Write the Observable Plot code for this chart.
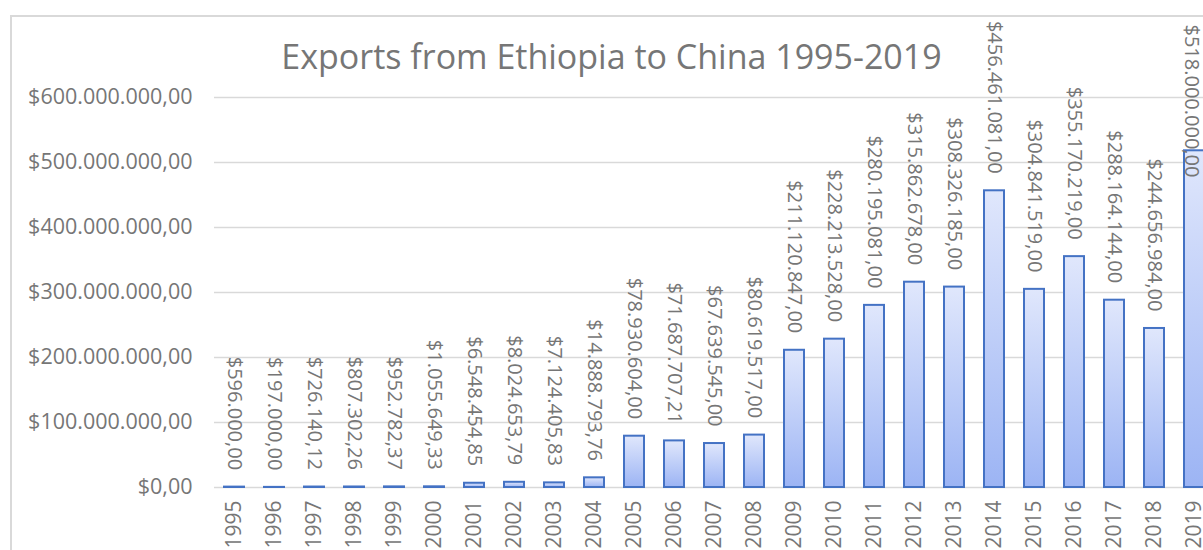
<!DOCTYPE html>
<html>
<head>
<meta charset="utf-8">
<script src="https://cdn.jsdelivr.net/npm/d3@7"></script>
<script src="https://cdn.jsdelivr.net/npm/@observablehq/plot@0.6"></script>
<style>
  html, body { margin: 0; padding: 0; background: #ffffff; overflow: hidden; }
  #wrap { position: relative; width: 1203px; height: 550px; overflow: hidden; }
  #frame { position: absolute; left: 10px; top: 15px; width: 1300px; height: 700px; border: 2px solid #d9d9d9; box-sizing: border-box; }
  #title { position: absolute; left: 0; top: 39px; width: 1223px; text-align: center; font-family: "Open Sans", sans-serif; font-size: 34px; line-height: 1; color: #767676; white-space: nowrap; }
  #chart { position: absolute; left: 0; top: 0; }
</style>
</head>
<body>
<div id="wrap">
  <div id="frame"></div>
  <div id="chart"></div>
  <div id="title">Exports from Ethiopia to China 1995-2019</div>
</div>
<script>
const years = ["1995","1996","1997","1998","1999","2000","2001","2002","2003","2004","2005","2006","2007","2008","2009","2010","2011","2012","2013","2014","2015","2016","2017","2018","2019"];
const exportsUSD = [596000.00, 197000.00, 726140.12, 807302.26, 952782.37, 1055649.33, 6548454.85, 8024653.79, 7124405.83, 14888793.76, 78930604.00, 71687707.21, 67639545.00, 80619517.00, 211120847.00, 228213528.00, 280195081.00, 315862678.00, 308326185.00, 456461081.00, 304841519.00, 355170219.00, 288164144.00, 244656984.00, 518000000.00];
const yTicks = [0, 100000000, 200000000, 300000000, 400000000, 500000000, 600000000];

const locale = d3.formatLocale({decimal: ",", thousands: ".", grouping: [3], currency: ["$", ""]});
const fmt = locale.format("$,.2f");

const data = years.map((y, i) => ({year: y, value: exportsUSD[i]}));
// labels that don't fit above the bar are pinned to the top of the plot area (as the spreadsheet does)
const fits = d => d.value <= 480000000;

const chart = Plot.plot({
  width: 1203,
  height: 550,
  marginLeft: 214,
  marginRight: -11,
  marginTop: 97,
  marginBottom: 63,
  x: {domain: years, paddingInner: 0.5, paddingOuter: 0.25, align: 0.5, label: null},
  y: {domain: [0, 600000000], label: null},
  style: {fontFamily: "'Open Sans', sans-serif", fontSize: "21px", color: "#767676", background: "transparent", overflow: "visible"},
  marks: [
    Plot.ruleY(yTicks, {stroke: "#d9d9d9", strokeWidth: 1.5}),
    Plot.barY(data, {x: "year", y: "value", fill: "url(#barGrad)", stroke: "#4472c4", strokeWidth: 2}),
    Plot.text(data.filter(fits), {x: "year", y: "value", text: d => fmt(d.value), rotate: 90, textAnchor: "end", dy: -17, fontSize: 20, fill: "#767676"}),
    Plot.text(data.filter(d => !fits(d)), {x: "year", frameAnchor: "top", lineAnchor: "middle", text: d => fmt(d.value), rotate: 90, textAnchor: "start", dy: -73, dx: -3, fontSize: 20, fill: "#767676"}),
    Plot.axisY({ticks: yTicks, tickSize: 0, tickPadding: 22, tickFormat: fmt, fontSize: 21.5, label: null}),
    Plot.axisX({tickSize: 0, tickPadding: 13, tickRotate: -90, fontSize: 21, label: null})
  ]
});

const defs = d3.select(chart).insert("defs", ":first-child");
const grad = defs.append("linearGradient").attr("id", "barGrad").attr("x1", 0).attr("y1", 0).attr("x2", 0).attr("y2", 1);
grad.append("stop").attr("offset", "0%").attr("stop-color", "#e0e7fc");
grad.append("stop").attr("offset", "100%").attr("stop-color", "#9cb4f4");

document.getElementById("chart").appendChild(chart);
</script>
</body>
</html>
